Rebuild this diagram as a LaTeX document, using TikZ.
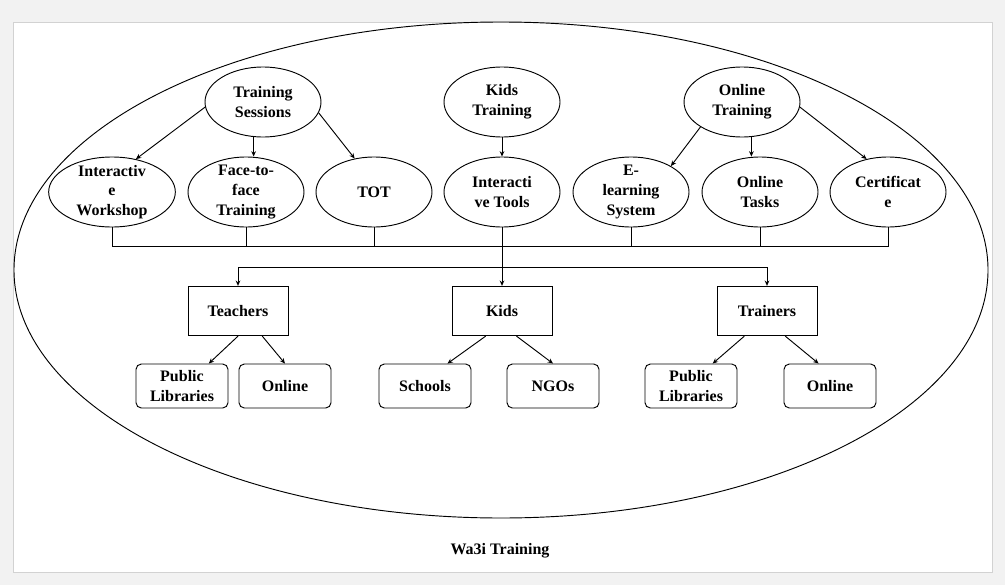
\documentclass[tikz,border=0pt]{standalone}
\usepackage{fontspec}
\setmainfont{Liberation Serif}
\usetikzlibrary{arrows.meta,shapes.geometric}
\begin{document}
\begin{tikzpicture}[x=0.75pt,y=-0.75pt,line width=0.7pt,
	font=\bfseries\fontsize{12}{14.8}\selectfont,
	>={Stealth[length=4pt,width=3.5pt]}]
	\fill[gray!10] (0,0) rectangle (1005,585);
	\useasboundingbox (0,0) rectangle (1005,585);
	\draw[gray!35,fill=white] (13,22) rectangle (992,572);
	\draw (501,270) ellipse [x radius=365.25pt, y radius=186pt];
	% training types
	\begin{scope}[every node/.style={ellipse,draw,align=center,minimum width=87pt,minimum height=52.5pt,inner xsep=0pt,inner ysep=-6pt}]
	\node (ts) at (263,102) {Training\\Sessions};
	\node (kt) at (502,102) {Kids\\Training};
	\node (ot) at (742,102) {Online\\Training};
	\node[minimum width=95pt] (iw) at (112,192) {Interactiv\\e\\Workshop};
	\node (ff) at (246,192) {Face-to-\\face\\Training};
	\node (tot) at (374,192) {TOT};
	\node (it) at (502,192) {Interacti\\ve Tools};
	\node (el) at (631,192) {E-\\learning\\System};
	\node (otk) at (760,192) {Online\\Tasks};
	\node (cert) at (888,192) {Certificat\\e};
	\end{scope}
	% target groups
	\begin{scope}[every node/.style={rectangle,draw,minimum width=75pt,minimum height=37pt}]
	\node (teach) at (238,311) {Teachers};
	\node (kids) at (502,311) {Kids};
	\node (train) at (767,311) {Trainers};
	\end{scope}
	\begin{scope}[every node/.style={rectangle,draw,rounded corners=4pt,align=center,minimum width=69pt,minimum height=33pt,inner ysep=0pt}]
	\node (pl1) at (182,386) {Public\\Libraries};
	\node (on1) at (285,386) {Online};
	\node (sch) at (425,386) {Schools};
	\node (ngo) at (553,386) {NGOs};
	\node (pl2) at (691,386) {Public\\Libraries};
	\node (on2) at (830,386) {Online};
	\end{scope}
	\node (title) at (500,551) {Wa3i Training};
	\coordinate (bus) at (502,246);
	\coordinate (split) at (502,267);
	\draw[->] (ts.185) -- (iw.54);
	\draw[->] (ts.255) -- (ts.255 |- ff.north);
	\draw[->] (ts.349) -- (tot.120);
	\draw[->] (kt) -- (it);
	\draw[->] (ot.211) -- (el.33);
	\draw[->] (ot.285) -- (ot.285 |- otk.north);
	\draw[->] (ot.355) -- (cert.123);
	\draw (iw.south) |- (cert.south |- bus) -- (cert.south);
	\draw \foreach \n in {ff,tot,el,otk}
	{(\n.south) -- (\n.south |- bus)};
	\draw[->] (it.south) -- (kids.north);
	\draw[->] (split) -| (teach.north);
	\draw[->] (split) -| (train.north);
	\draw[->] (teach.south) -- (pl1.40);
	\draw[->] (teach.-46) -- (on1.north);
	\draw[->] (kids.237) -- (sch.45);
	\draw[->] (kids.-60) -- (ngo.north);
	\draw[->] (train.228) -- (pl2.46);
	\draw[->] (train.-54) -- (on2.117);
\end{tikzpicture}
\end{document}
